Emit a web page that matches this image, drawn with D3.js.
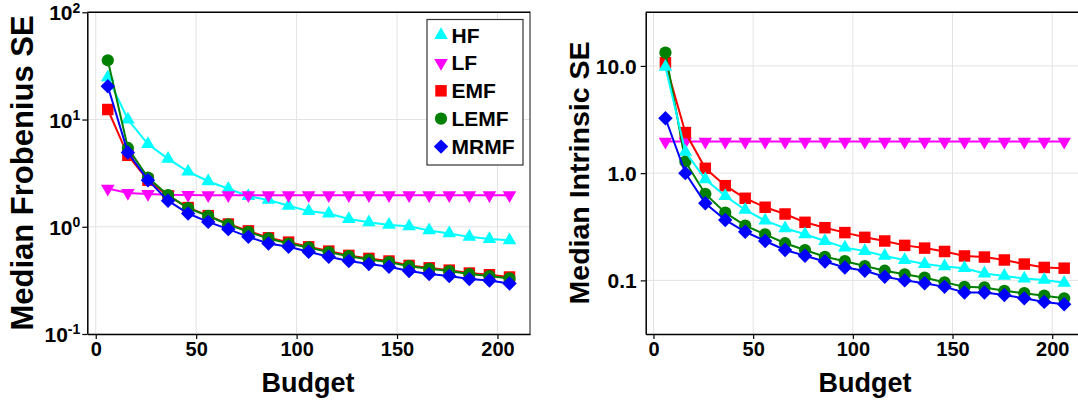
<!DOCTYPE html>
<html><head><meta charset="utf-8">
<script src="https://cdn.jsdelivr.net/npm/d3@7"></script>
<style>
html,body{margin:0;padding:0;background:#fff;overflow:hidden}
text{font-family:"Liberation Sans",Arial,Helvetica,sans-serif;font-weight:bold;fill:#000}
</style></head>
<body><svg id="c" width="1078" height="402"></svg>
<script>
const budget = [6,16,26,36,46,56,66,76,86,96,106,116,126,136,146,156,166,176,186,196,206];
const seriesNames = ["HF","LF","EMF","LEMF","MRMF"];
const seriesColors = ["#00ffff","#ff00ff","#ff0000","#008000","#0000ff"];
const xTicks = [0,50,100,150,200];

// Left panel: Median Frobenius SE
const hfF   = [24.8,10.0,5.9,4.3,3.27,2.66,2.26,1.93,1.78,1.57,1.40,1.33,1.18,1.10,1.04,1.01,0.925,0.867,0.805,0.768,0.747];
const lfF   = [2.27,2.07,2.02,1.99,1.98,1.97,1.97,1.97,1.97,1.97,1.97,1.97,1.97,1.97,1.97,1.97,1.97,1.97,1.97,1.97,1.97];
const emfF  = [12.4,4.64,2.72,1.94,1.51,1.27,1.06,0.916,0.789,0.719,0.65,0.593,0.541,0.507,0.479,0.436,0.414,0.394,0.370,0.357,0.34];
const lemfF = [35.7,5.43,2.88,1.97,1.49,1.26,1.05,0.897,0.778,0.698,0.641,0.58,0.532,0.495,0.468,0.429,0.405,0.386,0.362,0.347,0.33];
const mrmfF = [20.4,4.93,2.72,1.75,1.33,1.11,0.95,0.805,0.698,0.65,0.584,0.525,0.479,0.449,0.424,0.386,0.362,0.347,0.325,0.316,0.296];
const yTicksF = [0.1,1,10,100];
const yTickExpF = ["-1","0","1","2"];

// Right panel: Median Intrinsic SE
const hfI   = [9.8,1.58,0.877,0.612,0.454,0.361,0.306,0.269,0.233,0.202,0.188,0.169,0.155,0.142,0.135,0.13,0.116,0.11,0.104,0.101,0.095];
const lfI   = [1.97,1.97,1.97,1.97,1.97,1.97,1.97,1.97,1.97,1.97,1.97,1.97,1.97,1.97,1.97,1.97,1.97,1.97,1.97,1.97,1.97];
const emfI  = [10.7,2.39,1.11,0.764,0.583,0.481,0.416,0.348,0.31,0.279,0.252,0.233,0.212,0.2,0.186,0.169,0.165,0.155,0.142,0.132,0.13];
const lemfI = [13.3,1.28,0.64,0.428,0.324,0.269,0.222,0.192,0.166,0.151,0.136,0.123,0.114,0.106,0.096,0.087,0.086,0.08,0.076,0.072,0.068];
const mrmfI = [3.25,1.0,0.523,0.366,0.284,0.233,0.192,0.17,0.15,0.132,0.123,0.108,0.1,0.094,0.087,0.077,0.077,0.073,0.068,0.063,0.06];
const yTicksI = [0.1,1,10];
const yTickLabI = ["0.1","1.0","10.0"];

const svg = d3.select("#c");

function symbolFor(i){
  return [
    {type:d3.symbolTriangle, size:80, rot:0},
    {type:d3.symbolTriangle, size:80, rot:180},
    {type:d3.symbolSquare, size:132, rot:0},
    {type:d3.symbolCircle, size:118, rot:0},
    {type:d3.symbolSquare, size:104, rot:45}
  ][i];
}

function panel(opt){
  const g = svg.append("g");
  const x = d3.scaleLinear().domain(opt.xDomain).range(opt.xRange);
  const y = d3.scaleLog().domain(opt.yDomain).range([334,12.3]);
  const [x0,x1] = opt.xRange;
  g.append("g").selectAll("line").data(xTicks).join("line")
    .attr("x1",d=>x(d)).attr("x2",d=>x(d)).attr("y1",12.3).attr("y2",334)
    .attr("stroke","#e3e3e3").attr("stroke-width",1);
  g.append("g").selectAll("line").data(opt.yTicks).join("line")
    .attr("x1",x0).attr("x2",x1).attr("y1",d=>y(d)).attr("y2",d=>y(d))
    .attr("stroke","#e3e3e3").attr("stroke-width",1);
  if(opt.rightBorder){
    g.append("line").attr("x1",x1).attr("x2",x1).attr("y1",11.5).attr("y2",334.5)
      .attr("stroke","#888").attr("stroke-width",2);
  }
  g.append("line").attr("x1",x0).attr("x2",x1).attr("y1",12.3).attr("y2",12.3).attr("stroke","#000").attr("stroke-width",1.5);
  const xa = g.append("g").attr("transform","translate(0,334)")
    .call(d3.axisBottom(x).tickValues(xTicks).tickSize(5).tickSizeOuter(0).tickPadding(3));
  xa.select(".domain").attr("stroke","#000").attr("stroke-width",1.5);
  xa.selectAll(".tick line").attr("stroke","#000").attr("stroke-width",1.2);
  xa.selectAll("text").style("font-size","20px").style("font-family","Liberation Sans, Arial, sans-serif").style("font-weight","bold").attr("fill","#000");
  const ya = g.append("g").attr("transform",`translate(${x0},0)`)
    .call(d3.axisLeft(y).tickValues(opt.yTicks).tickSize(5).tickSizeOuter(0).tickFormat(()=>""));
  ya.select(".domain").attr("stroke","#000").attr("stroke-width",1.5);
  ya.selectAll(".tick line").attr("stroke","#000").attr("stroke-width",1.2);
  ya.selectAll(".tick").each(function(d,i){
    const t = d3.select(this).append("text").attr("x",opt.yLabelX).attr("dy","0.36em")
      .attr("text-anchor","end").style("font-size","21px");
    if(opt.yExp){
      t.append("tspan").text("10");
      t.append("tspan").attr("dy","-0.55em").style("font-size","14px").text(opt.yExp[i]);
    } else {
      t.text(opt.yLabels[i]);
    }
  });
  g.append("text").attr("x",opt.xTitleX).attr("y",392)
    .attr("text-anchor","middle").style("font-size","27px").text("Budget");
  g.append("text").attr("transform",`translate(${opt.yTitleX},173) rotate(-90)`)
    .attr("text-anchor","middle").style("font-size",opt.yTitleSize+"px").text(opt.yTitle);
  const line = d3.line().x((d,i)=>x(budget[i])).y(d=>y(d));
  opt.order.forEach(si=>{
    const vals = opt.series[si];
    g.append("path").attr("d",line(vals)).attr("fill","none")
      .attr("stroke",seriesColors[si]).attr("stroke-width",2);
    const s = symbolFor(si);
    g.append("g").selectAll("path").data(vals).join("path")
      .attr("d",d3.symbol().type(s.type).size(s.size))
      .attr("transform",(d,i)=>`translate(${x(budget[i])},${y(d)}) rotate(${s.rot})`)
      .attr("fill",seriesColors[si]);
  });
  return g;
}

panel({
  xDomain:[-4.2,216.2], xRange:[87.3,530], yDomain:[0.1,100], yTicks:yTicksF, yExp:yTickExpF,
  yLabelX:-7, yTitle:"Median Frobenius SE", yTitleX:33, yTitleSize:31, xTitleX:308, rightBorder:true,
  series:[hfF,lfF,emfF,lemfF,mrmfF], order:[0,1,2,3,4]
});
panel({
  xDomain:[-3.9,216.3], xRange:[645.7,1084.7], yDomain:[Math.pow(10,-1.5),Math.pow(10,1.5)], yTicks:yTicksI, yLabels:yTickLabI,
  yLabelX:-9, yTitle:"Median Intrinsic SE", yTitleX:589, yTitleSize:28.5, xTitleX:865, rightBorder:false,
  series:[hfI,lfI,emfI,lemfI,mrmfI], order:[1,2,3,0,4]
});

const lg = svg.append("g");
lg.append("rect").attr("x",427).attr("y",19.5).attr("width",96).attr("height",145.5)
  .attr("fill","#fff").attr("stroke","#333").attr("stroke-width",1.2);
seriesNames.forEach((n,i)=>{
  const cy = 35 + i*27.9;
  const s = symbolFor(i);
  lg.append("path").attr("d",d3.symbol().type(s.type).size(s.size))
    .attr("transform",`translate(441,${cy}) rotate(${s.rot})`).attr("fill",seriesColors[i]);
  lg.append("text").attr("x",451.5).attr("y",cy).attr("dy","0.36em").style("font-size","21px").text(n);
});
</script></body></html>
